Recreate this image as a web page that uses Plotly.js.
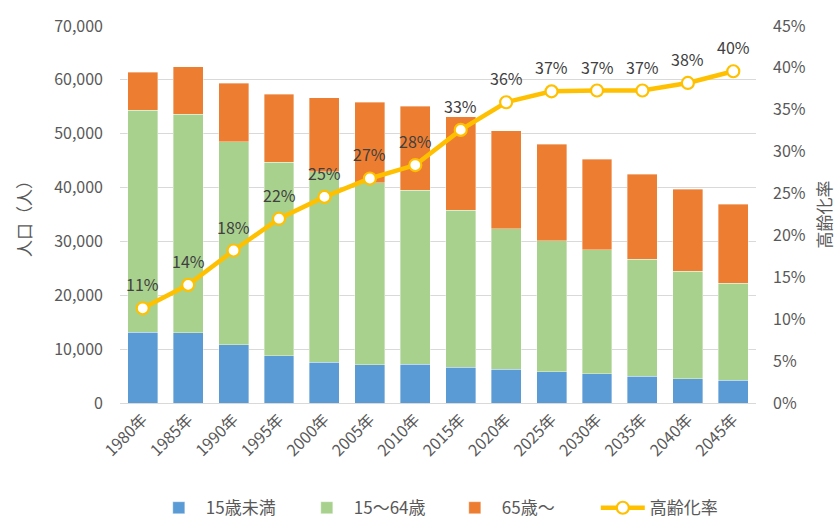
<!DOCTYPE html>
<html>
<head>
<meta charset="utf-8">
<script src="https://cdn.plot.ly/plotly-3.0.1.min.js"></script>
<style>html,body{margin:0;padding:0;background:#fff;}#chart{width:840px;height:520px;}</style>
</head>
<body>
<div id="chart"></div>
<script>
const years = ["1980年","1985年","1990年","1995年","2000年","2005年","2010年","2015年","2020年","2025年","2030年","2035年","2040年","2045年"];
const under15 = [13100, 13000, 10800, 8800, 7550, 7060, 7180, 6680, 6310, 5810, 5440, 4950, 4510, 4270];
const working = [41300, 40660, 37750, 35900, 35400, 33790, 32310, 29150, 26000, 24330, 22970, 21730, 20000, 18010];
const elderly = [7000, 8780, 10840, 12620, 13740, 14980, 15650, 17330, 18250, 17890, 16890, 15840, 15170, 14610];
const agingRate = [0.113, 0.141, 0.182, 0.220, 0.246, 0.268, 0.284, 0.326, 0.359, 0.372, 0.373, 0.373, 0.382, 0.396];

const FONT = '"Noto Sans CJK JP", "Noto Sans", sans-serif';
const barLine = {color: 'rgba(255,255,255,0.6)', width: 0.6};

const data = [
  {type: 'bar', name: '15歳未満', x: years, y: under15, marker: {color: '#5B9BD5', line: barLine}, hoverinfo: 'skip'},
  {type: 'bar', name: '15～64歳', x: years, y: working, marker: {color: '#A9D18E', line: barLine}, hoverinfo: 'skip'},
  {type: 'bar', name: '65歳～', x: years, y: elderly, marker: {color: '#ED7D31', line: barLine}, hoverinfo: 'skip'},
  {type: 'scatter', mode: 'lines+markers', name: '高齢化率', x: years, y: agingRate, yaxis: 'y2',
   line: {color: '#FFC000', width: 4.5},
   marker: {size: 12, color: '#FFFFFF', line: {color: '#FFC000', width: 2.2}},
   cliponaxis: false, hoverinfo: 'skip'}
];

const rateLabels = years.map((yr, i) => ({
  x: yr, y: agingRate[i], xref: 'x', yref: 'y2', yshift: 24, showarrow: false,
  text: Math.round(agingRate[i] * 100) + '%',
  font: {family: FONT, size: 16, color: '#404040'}
}));

const layout = {
  width: 840, height: 520,
  margin: {l: 120, r: 84, t: 26, b: 117, autoexpand: false},
  paper_bgcolor: '#FFFFFF', plot_bgcolor: '#FFFFFF',
  barmode: 'stack', bargap: 0.34,
  font: {family: FONT, size: 16, color: '#595959'},
  showlegend: true,
  legend: {orientation: 'h', x: 0.05, xanchor: 'left', y: -0.279, yanchor: 'middle',
           font: {family: FONT, size: 17, color: '#595959'}, traceorder: 'normal',
           itemwidth: 44, entrywidth: 89, entrywidthmode: 'pixels'},
  annotations: rateLabels,
  xaxis: {type: 'category', range: [-0.5, years.length - 0.5], tickangle: -45, showline: true, linecolor: '#D9D9D9',
          linewidth: 1, ticks: '', automargin: false,
          tickfont: {family: FONT, size: 16, color: '#595959'}, fixedrange: true},
  yaxis: {range: [0, 70000], dtick: 10000, tickformat: ',d', showgrid: true, gridcolor: '#D9D9D9', gridwidth: 1,
          zeroline: false, ticks: '', ticklen: 0, ticklabelstandoff: 16, automargin: false,
          tickfont: {family: FONT, size: 16, color: '#595959'},
          title: {text: '人口（人）', font: {family: FONT, size: 17, color: '#595959'}, standoff: 18}},
  yaxis2: {range: [0, 0.45], dtick: 0.05, tickformat: '.0%', overlaying: 'y', side: 'right', showgrid: false,
           zeroline: false, ticks: '', ticklabelstandoff: 16, automargin: false,
           tickfont: {family: FONT, size: 16, color: '#595959'},
           title: {text: '高齢化率', font: {family: FONT, size: 17, color: '#595959'}, standoff: 14}}
};

Plotly.newPlot('chart', data, layout, {displayModeBar: false, staticPlot: true});
</script>
</body>
</html>
